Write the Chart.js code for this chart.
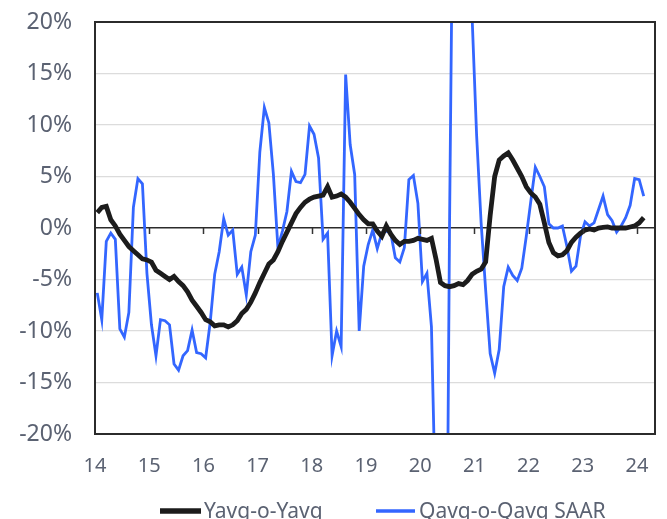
<!DOCTYPE html>
<html><head><meta charset="utf-8">
<script src="https://cdn.jsdelivr.net/npm/chart.js@4.4.0/dist/chart.umd.min.js"></script>
<style>html,body{margin:0;padding:0;background:#fff;}</style>
</head><body>
<canvas id="c" width="667" height="519"></canvas>
<script>
// Monthly categories Jan 2014 .. Feb 2024
const months = [];
for (let y = 2014; y <= 2024; y++) for (let m = 1; m <= 12; m++) { if (y === 2024 && m > 2) break; months.push(y + '-' + String(m).padStart(2, '0')); }
const yearLabels = ['14','15','16','17','18','19','20','21','22','23','24'];
const axisMonths = 124; // Jan 2014 .. Apr 2024 slots

const yoy = [
 1.5, 2.0, 2.1, 0.8, 0.2, -0.6, -1.2, -1.8, -2.2, -2.6, -3.0, -3.1,
 -3.3, -4.1, -4.4, -4.7, -5.0, -4.7, -5.2, -5.6, -6.2, -7.0, -7.6, -8.2,
 -8.9, -9.1, -9.5, -9.4, -9.4, -9.6, -9.4, -9.0, -8.3, -7.9, -7.2, -6.3,
 -5.3, -4.4, -3.5, -3.1, -2.3, -1.3, -0.4, 0.5, 1.4, 2.0, 2.5, 2.8,
 3.0, 3.1, 3.2, 4.0, 3.0, 3.1, 3.3, 3.0, 2.5, 1.9, 1.3, 0.8,
 0.4, 0.4, -0.3, -0.8, 0.2, -0.6, -1.2, -1.6, -1.3, -1.3, -1.2, -1.0,
 -1.1, -1.2, -1.0, -3.0, -5.3, -5.6, -5.7, -5.6, -5.4, -5.5, -5.1, -4.5,
 -4.2, -4.0, -3.3, 1.2, 5.0, 6.6, 7.0, 7.3, 6.6, 5.8, 5.0, 4.0,
 3.4, 3.0, 2.3, 0.5, -1.4, -2.4, -2.7, -2.6, -2.2, -1.4, -0.9, -0.5,
 -0.2, -0.1, -0.2, 0.0, 0.05, 0.1, 0.0, 0.0, 0.0, 0.0, 0.1, 0.2,
 0.5, 1.0
];
const qoq = [
 -6.3, -8.9, -1.3, -0.5, -1.1, -9.8, -10.6, -8.2, 2.0, 4.8, 4.3, -4.4,
 -9.4, -12.4, -8.9, -9.0, -9.4, -13.2, -13.8, -12.4, -11.9, -9.9, -12.1, -12.2,
 -12.6, -9.2, -4.5, -2.3, 0.9, -0.7, -0.2, -4.5, -3.8, -6.5, -2.3, -0.7,
 7.4, 11.7, 10.2, 5.2, -1.9, -0.3, 1.6, 5.5, 4.5, 4.4, 5.2, 9.9,
 9.1, 6.8, -1.1, -0.5, -12.4, -10.0, -11.5, 14.9, 8.1, 5.2, -10.0, -3.7,
 -1.6, -0.2, -2.0, -0.5, -0.3, -0.5, -2.9, -3.3, -1.9, 4.7, 5.1, 2.4,
 -5.2, -4.4, -9.6, -29, -50, -60, 0, 45, 70, 75, 60, 20.5,
 9, 0.5, -6, -12.2, -14.1, -11.8, -5.7, -3.8, -4.6, -5.1, -3.9, -0.8,
 2.6, 5.9, 5.0, 4.0, 0.4, 0.0, 0.0, 0.2, -1.8, -4.2, -3.7, -0.8,
 0.6, 0.2, 0.5, 1.8, 3.1, 1.3, 0.7, -0.4, 0.2, 1.0, 2.2, 4.8,
 4.7, 3.1
];
const seriesNames = ['Yavg-o-Yavg', 'Qavg-o-Qavg SAAR'];

const FONT = '"Noto Sans", "DejaVu Sans", sans-serif';
const TXT = '#5b6272';

const toPts = arr => arr.map((v, i) => ({ x: i + 0.5, y: v }));

const framePlugin = {
  id: 'frame',
  afterDatasetsDraw(chart) {
    const { ctx, chartArea: a, scales } = chart;
    ctx.save();
    const y0 = scales.y.getPixelForValue(0);
    ctx.strokeStyle = '#333';
    ctx.lineWidth = 1.5;
    for (let i = 1; i < yearLabels.length; i++) {
      const x = Math.round(scales.x.getPixelForValue(i * 12)) + 0.5;
      ctx.beginPath(); ctx.moveTo(x, y0); ctx.lineTo(x, y0 + 6); ctx.stroke();
    }
    ctx.strokeStyle = '#2b2b2b';
    ctx.lineWidth = 2;
    ctx.strokeRect(a.left, a.top, a.right - a.left, a.bottom - a.top);
    ctx.restore();
  },
  afterDraw(chart) {
    const { ctx } = chart;
    ctx.save();
    ctx.font = '21px ' + FONT;
    ctx.fillStyle = TXT;
    ctx.textBaseline = 'middle';
    const yl = 511;
    const items = [
      { ds: chart.data.datasets[0], x0: 160, x1: 201, tx: 204 },
      { ds: chart.data.datasets[1], x0: 376, x1: 415, tx: 419 }
    ];
    items.forEach(it => {
      ctx.strokeStyle = it.ds.borderColor;
      ctx.lineWidth = it.ds.borderWidth + 0.5;
      ctx.beginPath(); ctx.moveTo(it.x0, yl); ctx.lineTo(it.x1, yl); ctx.stroke();
      ctx.fillText(it.ds.label, it.tx, yl + 1);
    });
    ctx.restore();
  }
};

new Chart(document.getElementById('c'), {
  type: 'line',
  data: {
    datasets: [
      { label: seriesNames[0], data: toPts(yoy), borderColor: '#1c1c1c', borderWidth: 4.8, pointRadius: 0, tension: 0, order: 1 },
      { label: seriesNames[1], data: toPts(qoq), borderColor: '#3366ff', borderWidth: 2.8, pointRadius: 0, tension: 0, order: 2 }
    ]
  },
  options: {
    responsive: false,
    devicePixelRatio: 1,
    animation: false,
    events: [],
    layout: { padding: { left: 0, right: 12, top: 22, bottom: 0 }, autoPadding: false },
    plugins: { legend: { display: false }, tooltip: { enabled: false } },
    scales: {
      x: {
        type: 'linear', min: 0, max: axisMonths,
        afterBuildTicks: s => { s.ticks = yearLabels.map((_, i) => ({ value: i * 12 })); },
        afterFit: s => { s.height = 85; s.paddingLeft = 0; s.paddingRight = 0; },
        grid: { display: false, drawTicks: false },
        border: { display: false },
        ticks: {
          autoSkip: false, maxRotation: 0, padding: 20,
          color: TXT, font: { family: FONT, size: 20 },
          callback: (v, i) => yearLabels[i]
        }
      },
      y: {
        min: -20, max: 20,
        afterBuildTicks: s => { s.ticks = [-20,-15,-10,-5,0,5,10,15,20].map(v => ({ value: v })); },
        afterFit: s => { s.width = 95; s.paddingTop = 0; s.paddingBottom = 0; },
        grid: {
          drawTicks: false,
          color: c => (c.tick && c.tick.value === 0) ? '#2b2b2b' : '#dcdcdc',
          lineWidth: c => (c.tick && c.tick.value === 0) ? 1.5 : 1.2
        },
        border: { display: false },
        ticks: {
          padding: 23, color: TXT, font: { family: FONT, size: 23 },
          callback: v => v + '%'
        }
      }
    }
  },
  plugins: [framePlugin]
});
</script>
</body></html>
